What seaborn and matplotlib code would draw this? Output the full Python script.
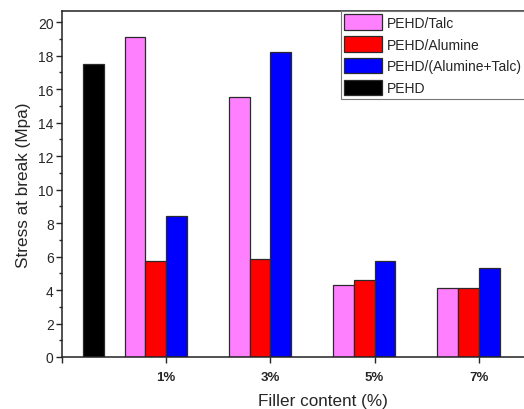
import numpy as np
import pandas as pd
import seaborn as sns
import matplotlib
matplotlib.use("Agg")
from matplotlib import pyplot as plt
from matplotlib.ticker import MultipleLocator

sns.set_theme(style="ticks")
plt.rcParams['font.family'] = ['Liberation Sans', 'DejaVu Sans']

# data
categorias = ["", "1%", "3%", "5%", "7%"]
series = ["PEHD/Talc", "PEHD/Alumine", "PEHD/(Alumine+Talc)", "PEHD"]
talc = [np.nan, 19.1, 15.55, 4.3, 4.12]
alumine = [np.nan, 5.72, 5.85, 4.62, 4.12]
alumine_talc = [np.nan, 8.4, 18.2, 5.75, 5.33]
pehd = [17.5, np.nan, np.nan, np.nan, np.nan]
colores = ["#FF80FF", "#FF0000", "#0000FF", "#000000"]

filas = []
for nombre, valores in zip(series, [talc, alumine, alumine_talc, pehd]):
    for cat, v in zip(categorias, valores):
        if not np.isnan(v):
            filas.append({"carga": cat, "serie": nombre, "valor": v})
df = pd.DataFrame(filas)

fig = plt.figure(figsize=(5.24, 4.10), dpi=100)
ax = fig.add_axes([62 / 524, 1 - 358 / 410, (583 - 62) / 524, (358 - 12) / 410])

sns.barplot(data=df, x="carga", y="valor", hue="serie", order=categorias,
            hue_order=series, palette=colores, saturation=1, width=0.8,
            edgecolor="#2a2a2a", linewidth=0.9, ax=ax, legend=True)

ax.set_xlim(0, 5)
ax.set_ylim(0, 20.67)
ax.yaxis.set_major_locator(MultipleLocator(2))
ax.yaxis.set_minor_locator(MultipleLocator(1))
ax.set_xticks(range(len(categorias)))
ax.set_xticklabels(categorias, fontweight="bold", fontsize=9.5)
ax.tick_params(axis="y", which="major", direction="out", length=4, width=1,
               labelsize=10, pad=2)
ax.tick_params(axis="y", which="minor", direction="out", length=2.5, width=1)
ax.tick_params(axis="x", which="major", direction="out", length=4, width=1, pad=6)
for lado in ["left", "bottom", "top", "right"]:
    ax.spines[lado].set_color("#222222")
    ax.spines[lado].set_linewidth(1.1)

ax.set_xlabel("Filler content (%)", fontsize=12.3, labelpad=7.5)
ax.set_ylabel("Stress at break (Mpa)", fontsize=12.3, labelpad=5)

handles, labels = ax.get_legend_handles_labels()
ley = ax.legend(handles, labels, loc="upper left", bbox_to_anchor=(0.5355, 1.0),
                borderaxespad=0, fontsize=10, frameon=True, fancybox=False,
                framealpha=1, edgecolor="#777777", handlelength=2.73,
                handleheight=1.3, labelspacing=0.48, handletextpad=0.29,
                borderpad=0.25)
ley.get_frame().set_linewidth(0.8)

fig.savefig("out.png", dpi=100)
